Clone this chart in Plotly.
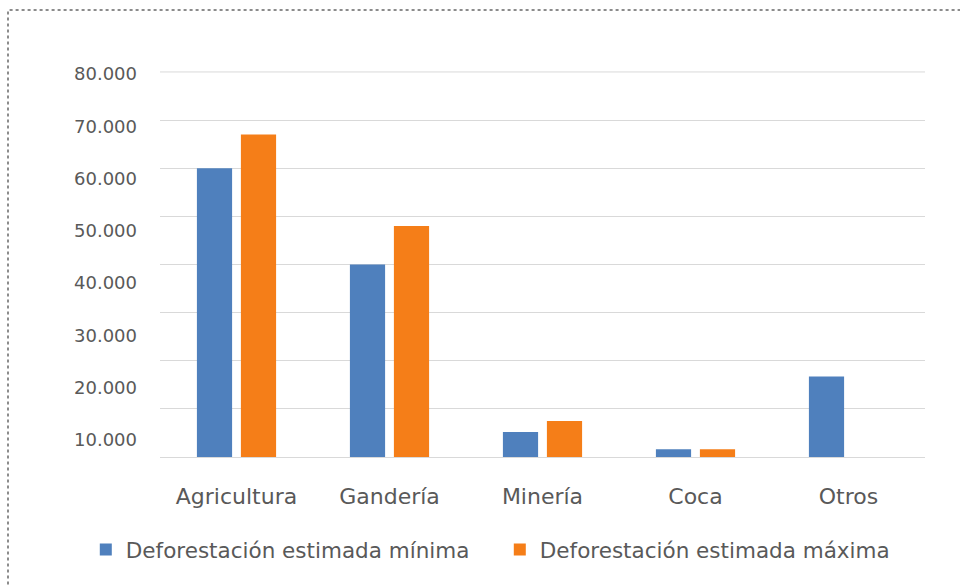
import plotly.graph_objects as go

categories = ["Agricultura", "Gandería", "Minería", "Coca", "Otros"]
minima = [60000, 40000, 5200, 1600, 16700]
maxima = [67000, 48000, 7500, 1600, 0]
tick_vals = [10000, 20000, 30000, 40000, 50000, 60000, 70000, 80000]
tick_text = ["10.000", "20.000", "30.000", "40.000", "50.000", "60.000", "70.000", "80.000"]

BLUE = "#4F80BD"
ORANGE = "#F57E18"
TXT = "#595959"
GRID = "#D9D9D9"
FONT = "DejaVu Sans"

fig = go.Figure()
fig.add_trace(go.Bar(x=categories, y=minima, name="Deforestación estimada mínima",
                     marker=dict(color=BLUE, line=dict(width=0))))
fig.add_trace(go.Bar(x=categories, y=maxima, name="Deforestación estimada máxima",
                     marker=dict(color=ORANGE, line=dict(width=0))))

fig.update_layout(
    width=960, height=586,
    margin=dict(l=160, r=35, t=71, b=129),
    paper_bgcolor="white", plot_bgcolor="white",
    barmode="group", bargap=0.425, bargroupgap=0.2,
    font=dict(family=FONT, color=TXT, size=18),
    xaxis=dict(showgrid=False, showline=False, zeroline=False, ticks="",
               tickfont=dict(size=22, color=TXT), ticklabelstandoff=24),
    yaxis=dict(range=[0, 80200], tickvals=tick_vals + [0], showgrid=True, gridcolor=GRID,
               gridwidth=1, zeroline=True, zerolinecolor=GRID, zerolinewidth=1,
               showticklabels=False, showline=False),
    yaxis2=dict(overlaying="y", side="left", range=[6749, 80574], showgrid=False,
                zeroline=False, showline=False, tickvals=tick_vals, ticktext=tick_text,
                tickfont=dict(size=18, color=TXT), ticklabelstandoff=22),
    legend=dict(orientation="h", x=-0.097, xanchor="left", y=-0.24, yanchor="middle",
                font=dict(size=21.5, color=TXT), itemsizing="constant", traceorder="normal",
                entrywidth=369),
    showlegend=True,
)
# helper trace so the secondary (label) axis is drawn
fig.add_trace(go.Scatter(x=[categories[0]], y=[None], yaxis="y2", showlegend=False,
                         hoverinfo="skip"))

# top gridline (80.000)
fig.add_shape(type="line", xref="paper", yref="y", x0=0, x1=1,
              y0=tick_vals[-1], y1=tick_vals[-1], line=dict(color=GRID, width=1), layer="below")

fig.add_shape(type="rect", xref="paper", yref="paper",
              x0=(8 - 160) / 765, x1=1.2, y0=-0.6, y1=1 + (71 - 10) / 386,
              line=dict(color="#8C8C8C", width=2, dash="dot"), fillcolor="rgba(0,0,0,0)",
              layer="below")

fig.write_html("out.html")
